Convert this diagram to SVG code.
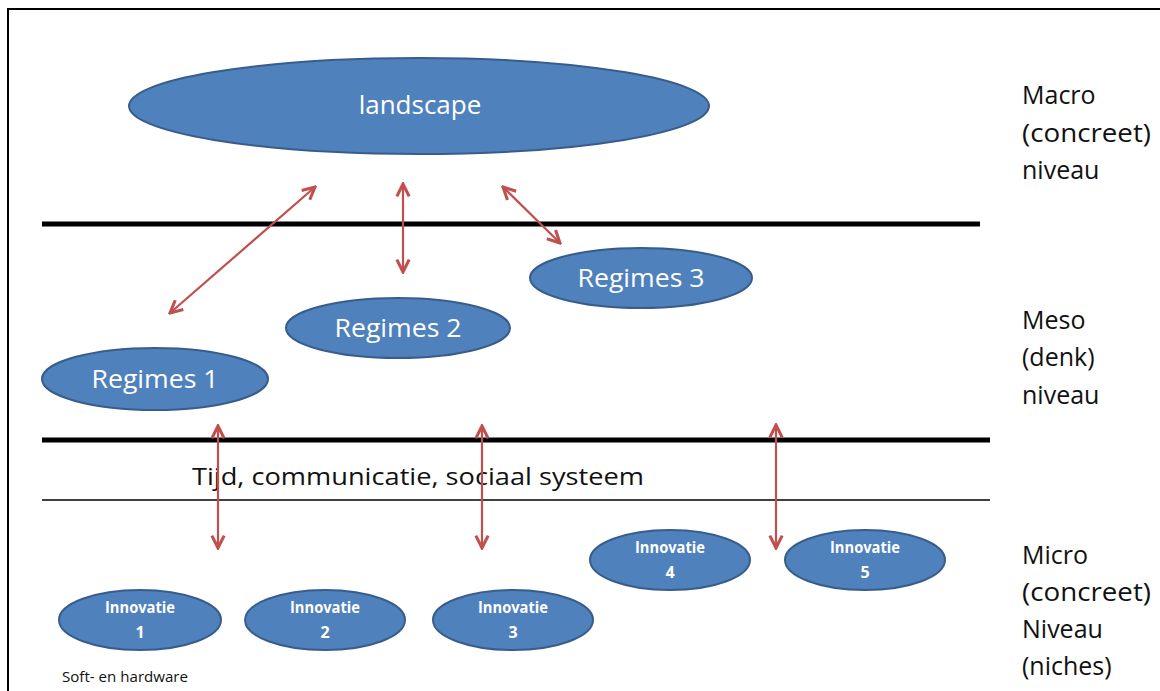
<svg xmlns="http://www.w3.org/2000/svg" width="1160" height="691" viewBox="0 0 1160 691">
<defs>
<style>
.node{fill:#4f81bd;stroke:#385d8a;stroke-width:2}
.lbl{fill:#fff;font-family:"Open Sans","Liberation Sans",sans-serif;text-anchor:middle}
.inn{fill:#fff;font-family:"Open Sans","Liberation Sans",sans-serif;font-weight:bold;font-size:16px;text-anchor:middle}
.side{fill:#111;font-family:"Open Sans","Liberation Sans",sans-serif;font-size:25px}
.conn{stroke:#c0504d;stroke-width:2.2;fill:none;marker-start:url(#ah);marker-end:url(#ah)}
</style>
<marker id="ah" viewBox="0 0 10 10" refX="9" refY="5" markerWidth="7" markerHeight="7" orient="auto-start-reverse" markerUnits="strokeWidth">
<path d="M1,1 L9,5 L1,9" fill="none" stroke="#c0504d" stroke-width="2"/>
</marker>
</defs>
<rect width="1160" height="691" fill="#fff"/>
<path d="M8,691 V9 H1160" fill="none" stroke="#000" stroke-width="2"/>
<g id="levels">
<line x1="42" y1="224" x2="980" y2="224" stroke="#000" stroke-width="5"/>
<line x1="42" y1="440" x2="990" y2="440" stroke="#000" stroke-width="5"/>
<line x1="42" y1="500" x2="990" y2="500" stroke="#000" stroke-width="1.5"/>
<text x="192" y="485" style="fill:#111;font-family:'Open Sans','Liberation Sans',sans-serif;font-size:24px" textLength="452" lengthAdjust="spacingAndGlyphs">Tijd, communicatie, sociaal systeem</text>
<text x="62" y="682" style="fill:#111;font-family:'Open Sans','Liberation Sans',sans-serif;font-size:14px" textLength="126" lengthAdjust="spacingAndGlyphs">Soft- en hardware</text>
</g>
<g id="side-labels" class="side">
<text x="1022" y="104">Macro</text>
<text x="1022" y="142" textLength="129" lengthAdjust="spacingAndGlyphs">(concreet)</text>
<text x="1022" y="179">niveau</text>
<text x="1022" y="329">Meso</text>
<text x="1022" y="366">(denk)</text>
<text x="1022" y="404">niveau</text>
<text x="1022" y="564">Micro</text>
<text x="1022" y="601" textLength="129" lengthAdjust="spacingAndGlyphs">(concreet)</text>
<text x="1022" y="638">Niveau</text>
<text x="1022" y="675">(niches)</text>
</g>
<g id="connectors">
<line class="conn" x1="315" y1="187" x2="170" y2="313"/>
<line class="conn" x1="403" y1="184" x2="403" y2="272"/>
<line class="conn" x1="503" y1="187" x2="560" y2="243"/>
<line class="conn" x1="218" y1="426" x2="218" y2="548"/>
<line class="conn" x1="482" y1="426" x2="482" y2="548"/>
<line class="conn" x1="776" y1="425" x2="776" y2="548"/>
</g>
<g id="landscape"><ellipse class="node" cx="419" cy="106" rx="290" ry="48"/><text class="lbl" x="420" y="114" font-size="26">landscape</text></g>
<g id="regimes3"><ellipse class="node" cx="641" cy="278" rx="111" ry="30"/><text class="lbl" x="641" y="287" font-size="26" textLength="127" lengthAdjust="spacingAndGlyphs">Regimes 3</text></g>
<g id="regimes2"><ellipse class="node" cx="398" cy="328" rx="112" ry="30"/><text class="lbl" x="398" y="337" font-size="26" textLength="127" lengthAdjust="spacingAndGlyphs">Regimes 2</text></g>
<g id="regimes1"><ellipse class="node" cx="155" cy="379" rx="113" ry="31"/><text class="lbl" x="155" y="388" font-size="26" textLength="127" lengthAdjust="spacingAndGlyphs">Regimes 1</text></g>
<g id="innovatie1"><ellipse class="node" cx="140" cy="620" rx="81" ry="30"/><text class="inn" x="140" y="613" textLength="70" lengthAdjust="spacingAndGlyphs">Innovatie</text><text class="inn" x="140" y="638">1</text></g>
<g id="innovatie2"><ellipse class="node" cx="325" cy="620" rx="80" ry="30"/><text class="inn" x="325" y="613" textLength="70" lengthAdjust="spacingAndGlyphs">Innovatie</text><text class="inn" x="325" y="638">2</text></g>
<g id="innovatie3"><ellipse class="node" cx="513" cy="620" rx="80" ry="30"/><text class="inn" x="513" y="613" textLength="70" lengthAdjust="spacingAndGlyphs">Innovatie</text><text class="inn" x="513" y="638">3</text></g>
<g id="innovatie4"><ellipse class="node" cx="670" cy="560" rx="80" ry="30"/><text class="inn" x="670" y="553" textLength="70" lengthAdjust="spacingAndGlyphs">Innovatie</text><text class="inn" x="670" y="578">4</text></g>
<g id="innovatie5"><ellipse class="node" cx="865" cy="560" rx="80" ry="30"/><text class="inn" x="865" y="553" textLength="70" lengthAdjust="spacingAndGlyphs">Innovatie</text><text class="inn" x="865" y="578">5</text></g>
</svg>
